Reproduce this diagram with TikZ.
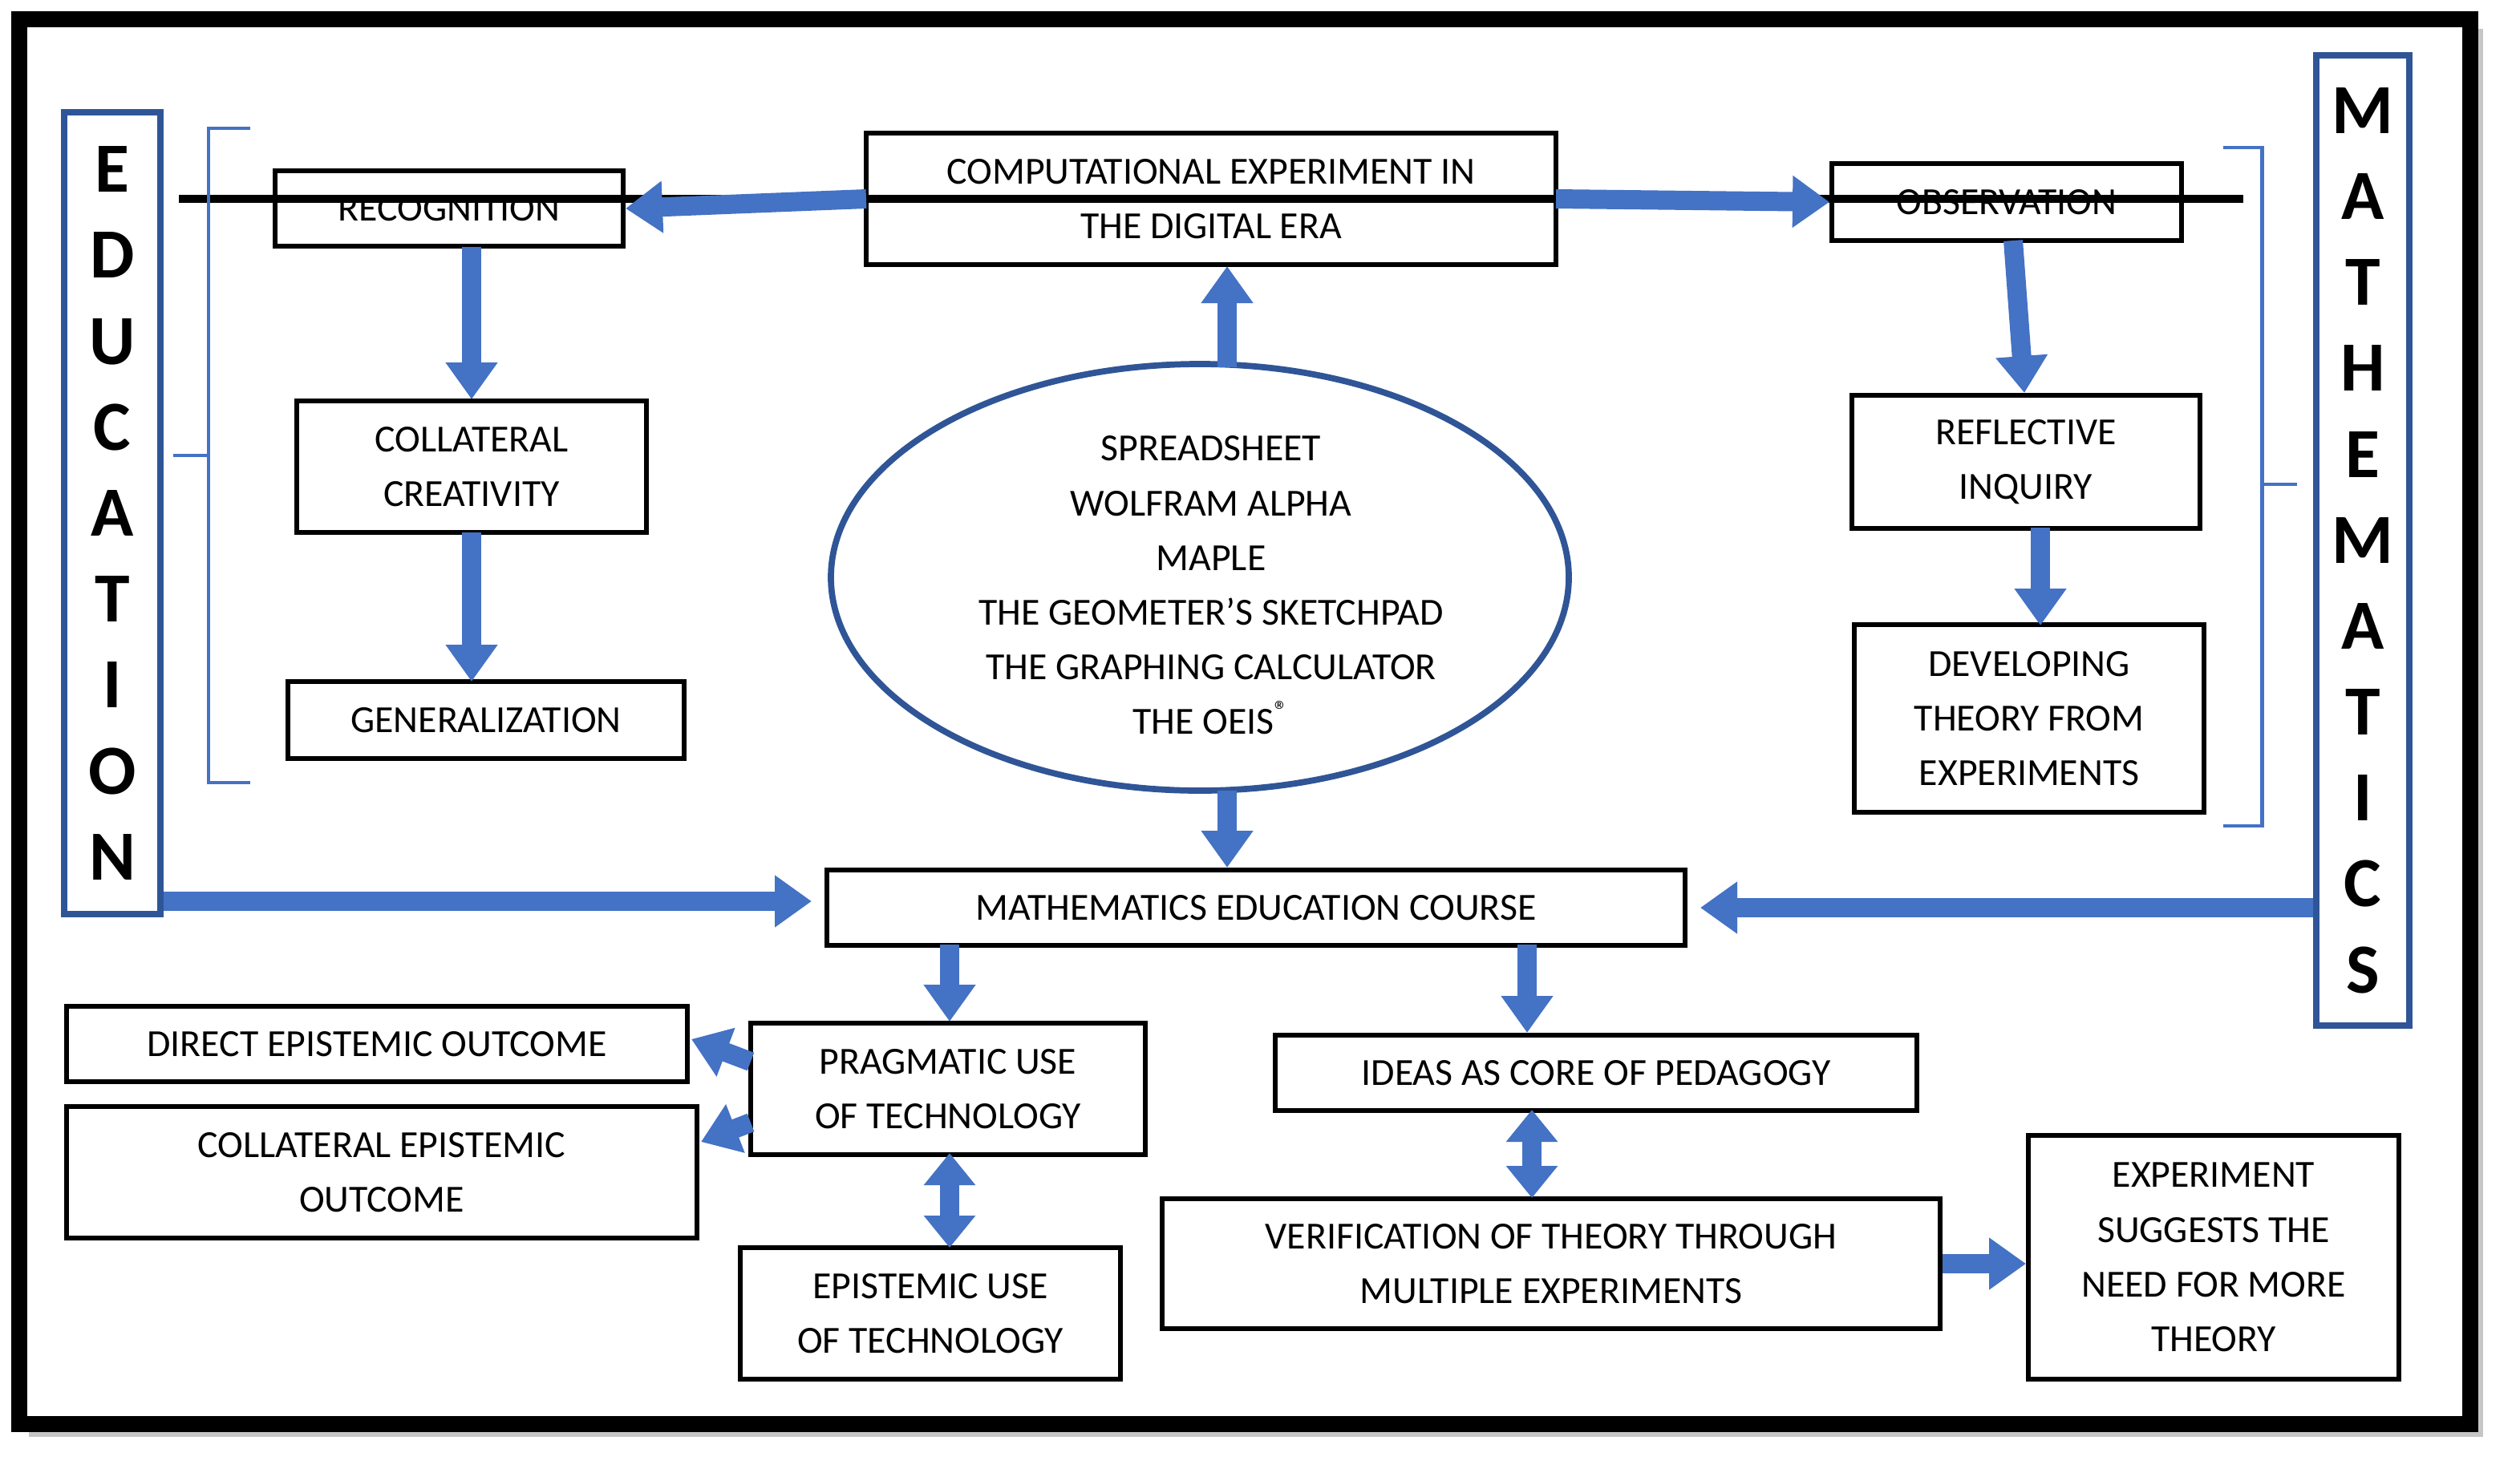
\documentclass[tikz,border=0pt]{standalone}
\usepackage{fontspec}
\setmainfont{Carlito}
\usetikzlibrary{arrows.meta,shapes.geometric}
\definecolor{ab}{RGB}{68,114,196}
\definecolor{bb}{RGB}{47,85,151}
\begin{document}
\begin{tikzpicture}[x=0.02cm,y=-0.02cm,
 box/.style={draw=black,line width=1.7pt,align=center,inner sep=0pt,font=\fontsize{13.6}{19.4}\selectfont},
 ar/.style={draw=ab,line width=0.24cm,-{Triangle[length=0.46cm,width=0.62cm]}},
 dar/.style={draw=ab,line width=0.24cm,{Triangle[length=0.4cm,width=0.62cm]}-{Triangle[length=0.4cm,width=0.62cm]}},
 side/.style={draw=bb,line width=2.2pt,align=center,font=\fontsize{25}{30.5}\selectfont\bfseries},
 brk/.style={draw=ab,line width=1.4pt}]
\useasboundingbox (0,0) rectangle (1571,923);
\fill[gray!45] (18,18) rectangle (1548,896);
\draw[black,line width=5.7pt,fill=white] (12,12) rectangle (1540,888);
% nodes
\node[box,minimum width=430\pgflinewidth,text width=8.2cm] (comp) at (755,124) {};
\draw[line width=1.7pt] (540,83) rectangle (970,165);
\node[align=center,font=\fontsize{13.6}{19.4}\selectfont] (compt) at (755,124) {COMPUTATIONAL EXPERIMENT IN\\THE DIGITAL ERA};
\node[box,minimum width=217*0.02cm,minimum height=47*0.02cm] (rec) at (280,130) {RECOGNITION};
\node[box,minimum width=218*0.02cm,minimum height=82*0.02cm] (col) at (294,291) {COLLATERAL\\CREATIVITY};
\node[box,minimum width=247*0.02cm,minimum height=48*0.02cm] (gen) at (303,449) {GENERALIZATION};
\node[box,minimum width=218*0.02cm,minimum height=48*0.02cm] (obs) at (1251,126) {OBSERVATION};
\node[box,minimum width=217*0.02cm,minimum height=83*0.02cm] (ref) at (1263,288) {REFLECTIVE\\INQUIRY};
\node[box,minimum width=218*0.02cm,minimum height=117*0.02cm] (dev) at (1265,448) {DEVELOPING\\THEORY FROM\\EXPERIMENTS};
\node[ellipse,draw=bb,line width=2.2pt,minimum width=460*0.02cm,minimum height=266*0.02cm,align=center,inner sep=0pt,font=\fontsize{13.6}{19.4}\selectfont] (ell) at (748,360) {};
\node[align=center,font=\fontsize{13.6}{19.4}\selectfont] (ellt) at (755,365) {SPREADSHEET\\WOLFRAM ALPHA\\MAPLE\\THE GEOMETER’S SKETCHPAD\\THE GRAPHING CALCULATOR\\THE OEIS\textsuperscript{®}};
\node[box,minimum width=535*0.02cm,minimum height=47*0.02cm] (mec) at (783,566) {MATHEMATICS EDUCATION COURSE};
\node[box,minimum width=387*0.02cm,minimum height=47*0.02cm] (dir) at (235,651) {DIRECT EPISTEMIC OUTCOME};
\node[box,minimum width=393*0.02cm,minimum height=82*0.02cm] (cep) at (238,731) {COLLATERAL EPISTEMIC\\OUTCOME};
\node[box,minimum width=246*0.02cm,minimum height=82*0.02cm] (prag) at (591,679) {PRAGMATIC USE\\OF TECHNOLOGY};
\node[box,minimum width=237*0.02cm,minimum height=82*0.02cm] (epi) at (580,819) {EPISTEMIC USE\\OF TECHNOLOGY};
\node[box,minimum width=400*0.02cm,minimum height=47*0.02cm] (ideas) at (995,669) {IDEAS AS CORE OF PEDAGOGY};
\node[box,minimum width=485*0.02cm,minimum height=81*0.02cm] (ver) at (967,788) {VERIFICATION OF THEORY THROUGH\\MULTIPLE EXPERIMENTS};
\node[box,minimum width=231*0.02cm,minimum height=152*0.02cm] (exp) at (1380,784) {EXPERIMENT\\SUGGESTS THE\\NEED FOR MORE\\THEORY};
\node[side,minimum width=60*0.02cm,minimum height=500*0.02cm] (edu) at (70,320) {E\\D\\U\\C\\A\\T\\I\\O\\N};
\node[side,minimum width=58*0.02cm,minimum height=605*0.02cm] (mat) at (1473,337) {M\\A\\T\\H\\E\\M\\A\\T\\I\\C\\S};
% brackets
\draw[brk] (156,80) -- (130,80) -- (130,488) -- (156,488);
\draw[brk] (130,284) -- (108,284);
\draw[brk] (1386,92) -- (1410,92) -- (1410,515) -- (1386,515);
\draw[brk] (1410,302) -- (1432,302);
% arrows
\draw[ar] (540,124) -- (rec.east);
\draw[ar] (970,124) -- (obs.west);
\draw[ar] (765,229) -- (765,166);
\draw[ar] (294,154) -- (294,249);
\draw[ar] (294,332) -- (294,425);
\draw[ar] (1255,150) -- (1262,245);
\draw[ar] (1272,329) -- (1272,390);
\draw[ar] (765,493) -- (765,541);
\draw[ar] (edu.east |- 0,562) -- (506,562);
\draw[ar] (mat.west |- 0,566) -- (1060,566);
\draw[ar] (592,589) -- (592,637);
\draw[ar] (952,589) -- (952,644);
\draw[ar] (468,662) -- (431,648);
\draw[ar] (468,700) -- (437,712);
\draw[dar] (592,719) -- (592,778);
\draw[dar] (955,692) -- (955,747);
\draw[ar] (ver.east |- 0,788) -- (exp.west |- 0,788);
\end{tikzpicture}
\end{document}
